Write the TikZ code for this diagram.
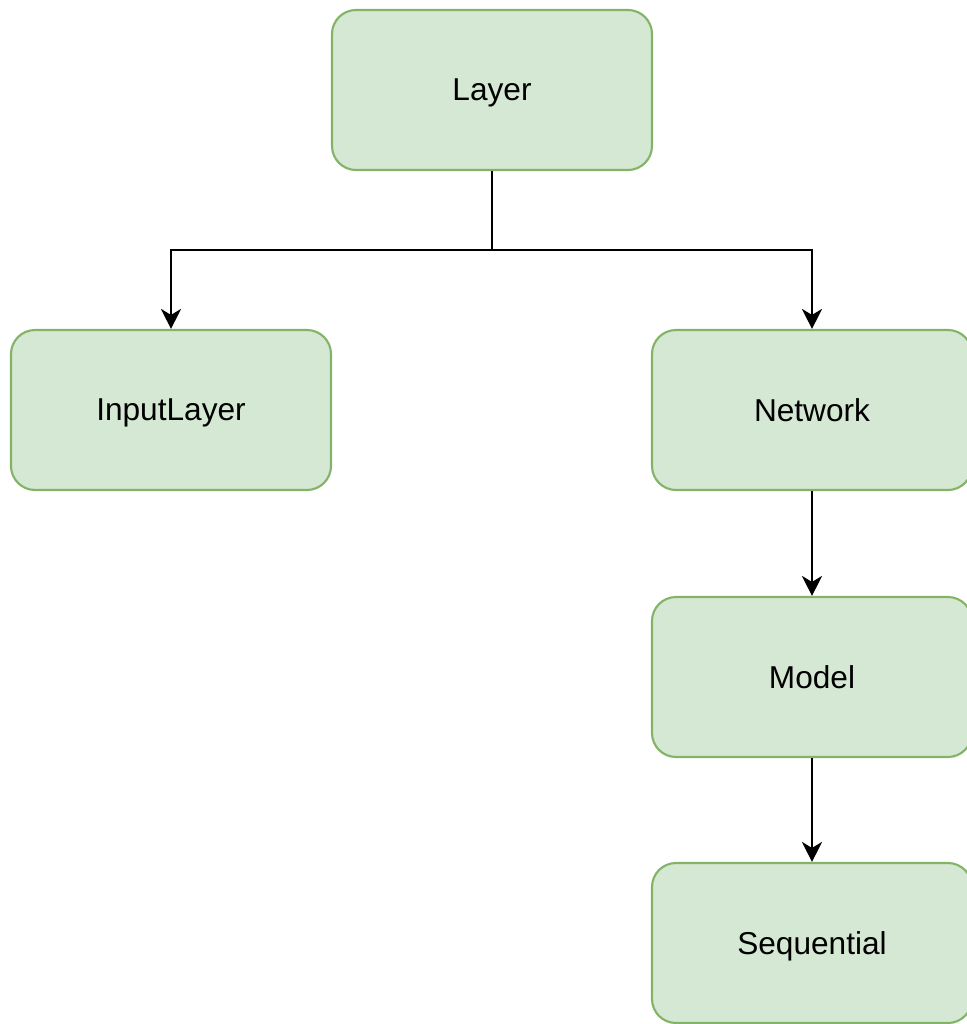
\documentclass[tikz,border=0pt]{standalone}
\usepackage{fontspec}
\setmainfont{Liberation Sans}
\usetikzlibrary{arrows.meta}
\definecolor{boxfill}{HTML}{D5E8D4}
\definecolor{boxline}{HTML}{82B366}
\tikzset{
  classbox/.style={draw=boxline,fill=boxfill,line width=0.6pt,rounded corners=2.4mm,
    minimum width=3.2cm,minimum height=1.6cm,inner sep=0,text depth=0pt,
    font=\fontsize{9}{11}\selectfont},
  link/.style={line width=0.7pt,-{Stealth[length=2mm,width=2mm,inset=0.6mm]}}
}
\begin{document}
\begin{tikzpicture}
  \useasboundingbox (0,0) rectangle (9.66,-10.24);
  % ---- class boxes ----
  \node[classbox] (layer) at (4.92,-0.90) {Layer};
  \node[classbox] (inputlayer) at (1.71,-4.10) {InputLayer};
  \node[classbox] (network) at (8.12,-4.10) {Network};
  \node[classbox] (model) at (8.12,-6.77) {Model};
  \node[classbox] (sequential) at (8.12,-9.43) {Sequential};
  % ---- inheritance links ----
  \coordinate (split) at (4.92,-2.50);
  \draw[line width=0.7pt] (layer) -- (split);
  \draw[link] (split) -| (inputlayer);
  \draw[link] (split) -| (network);
  \draw[link] (network) -- (model);
  \draw[link] (model) -- (sequential);
\end{tikzpicture}
\end{document}
